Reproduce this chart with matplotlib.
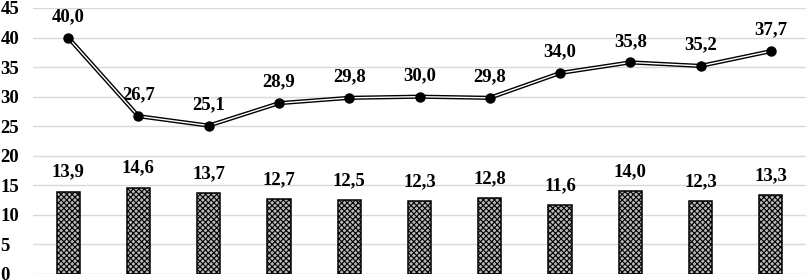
import numpy as np
import matplotlib
matplotlib.use("Agg")
from matplotlib import pyplot as plt

# Data
categories = list(range(11))
line_values = [40.0, 26.7, 25.1, 28.9, 29.8, 30.0, 29.8, 34.0, 35.8, 35.2, 37.7]
bar_values = [13.9, 14.6, 13.7, 12.7, 12.5, 12.3, 12.8, 11.6, 14.0, 12.3, 13.3]
y_ticks = [0, 5, 10, 15, 20, 25, 30, 35, 40, 45]

plt.rcParams['font.family'] = ['Liberation Serif', 'DejaVu Serif']
plt.rcParams['hatch.color'] = '#3a3a3a'
plt.rcParams['hatch.linewidth'] = 0.8

def fmt(v):
    return "{:.1f}".format(v).replace(".", ",")

fig = plt.figure(figsize=(8.06, 2.8), dpi=100)
ax = fig.add_axes([33 / 806, 6 / 280, 1 - 33 / 806, 266 / 280])

x = np.array(categories)

# Bars with dense cross-hatch
ax.bar(x, bar_values, width=0.33, facecolor='#b8b8b8', edgecolor='black',
       linewidth=1.1, hatch='xxxxxx', zorder=2)
for xi, v in zip(x, bar_values):
    ax.annotate(fmt(v), (xi, v), xytext=(0, 8), textcoords='offset points',
                ha='center', va='bottom', fontsize=13.5, fontweight='bold')

# Double line: black thick underneath, white thin on top
ax.plot(x, line_values, '-', color='black', linewidth=3.0, zorder=3)
ax.plot(x, line_values, '-', color='white', linewidth=1.0, zorder=4)
ax.plot(x, line_values, 'o', color='black', markersize=6.5, zorder=5)
for xi, v in zip(x, line_values):
    ax.annotate(fmt(v), (xi, v), xytext=(0, 9), textcoords='offset points',
                ha='center', va='bottom', fontsize=13.5, fontweight='bold')

ax.set_xlim(-0.5, 10.5)
ax.set_ylim(0, 45)
ax.set_yticks(y_ticks)
ax.set_xticks([])
ax.yaxis.grid(True, color='#d9d9d9', linewidth=1.0, zorder=0)
ax.set_axisbelow(True)
for side in ['top', 'right', 'left', 'bottom']:
    ax.spines[side].set_visible(False)
ax.tick_params(axis='y', length=0, pad=23.5)
for lbl in ax.get_yticklabels():
    lbl.set_fontweight('bold')
    lbl.set_fontsize(13.5)
    lbl.set_horizontalalignment('left')

fig.savefig("out.png", dpi=100)
